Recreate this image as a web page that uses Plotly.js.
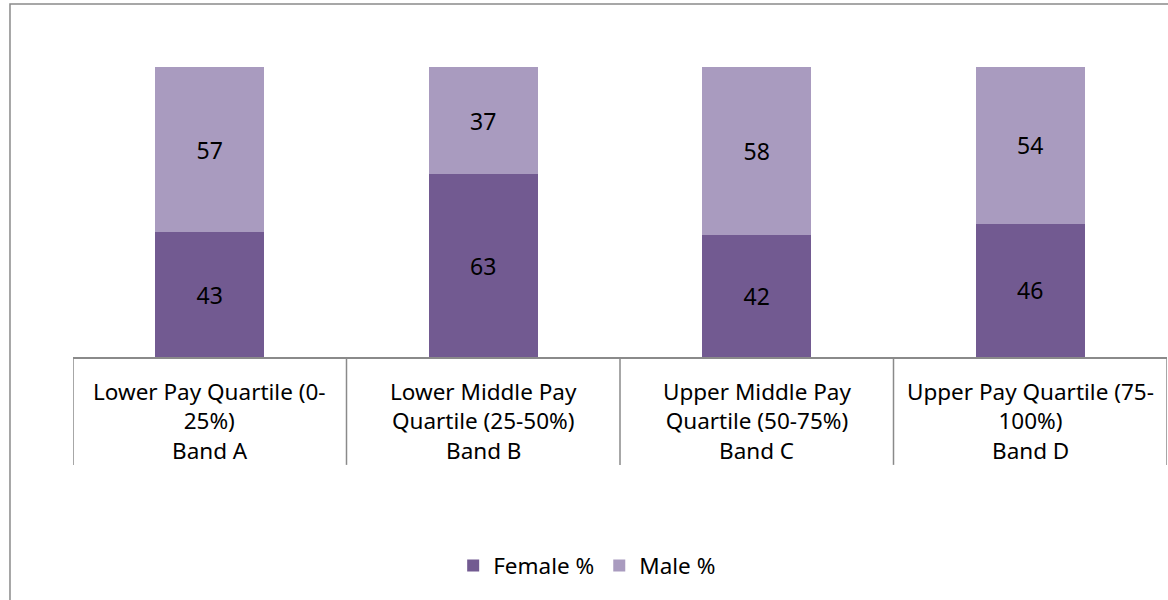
<!DOCTYPE html>
<html>
<head>
<meta charset="utf-8">
<script src="https://cdn.plot.ly/plotly-3.0.1.min.js"></script>
<style>html,body{margin:0;padding:0;background:#fff;}#chart{width:1168px;height:600px;}</style>
</head>
<body>
<div id="chart"></div>
<script>
const categories = ["Band A", "Band B", "Band C", "Band D"];
const quartileLabels = ["Lower Pay Quartile (0-<br>25%)", "Lower Middle Pay<br>Quartile (25-50%)", "Upper Middle Pay<br>Quartile (50-75%)", "Upper Pay Quartile (75-<br>100%)"];
const femalePct = [43, 63, 42, 46];
const malePct = [57, 37, 58, 54];

const FONT = "Noto Sans, sans-serif";
const FS = 22.5;
const xIdx = categories.map((c, i) => i);

const traces = [
  {type: "bar", name: "Female %", x: xIdx, y: femalePct, marker: {color: "#725A91"},
   texttemplate: "%{y}", textposition: "inside", insidetextanchor: "middle",
   textfont: {family: FONT, size: 23, color: "#000"}, hoverinfo: "skip"},
  {type: "bar", name: "Male %", x: xIdx, y: malePct, marker: {color: "#A99BBF"},
   texttemplate: "%{y}", textposition: "inside", insidetextanchor: "middle",
   textfont: {family: FONT, size: 23, color: "#000"}, hoverinfo: "skip"}
];

const shapes = [];
for (let i = 0; i <= categories.length; i++) {
  shapes.push({type: "line", xref: "x", yref: "paper", x0: i - 0.5, x1: i - 0.5, y0: 0, y1: -0.372,
    line: {color: "#8a8a8a", width: 1.5}});
}
shapes.push({type: "rect", xref: "paper", yref: "paper", x0: -0.0576, x1: 1.01, y0: -0.86, y1: 1.217,
  line: {color: "#8a8a8a", width: 1.5}, fillcolor: "rgba(0,0,0,0)"});

const annotations = [];
categories.forEach((c, i) => {
  annotations.push({xref: "x", yref: "paper", x: i, y: -0.169, yanchor: "middle", xanchor: "center",
    text: quartileLabels[i], showarrow: false, font: {family: FONT, size: FS, color: "#000"}, align: "center"});
  annotations.push({xref: "x", yref: "paper", x: i, y: -0.321, yanchor: "middle", xanchor: "center",
    text: c, showarrow: false, font: {family: FONT, size: FS, color: "#000"}});
});

const layout = {
  width: 1168, height: 600,
  margin: {l: 73, r: 1, t: 67, b: 243},
  paper_bgcolor: "#fff", plot_bgcolor: "#fff",
  barmode: "stack", bargap: 0.6,
  showlegend: true,
  legend: {orientation: "h", x: 0.47, xanchor: "center", y: -0.72, yanchor: "middle",
    font: {family: FONT, size: FS, color: "#000"}, traceorder: "normal"},
  xaxis: {type: "linear", range: [-0.5, categories.length - 0.5], showticklabels: false, ticks: "",
    showgrid: false, zeroline: false, showline: true, linecolor: "#8a8a8a", linewidth: 1.5, fixedrange: true},
  yaxis: {range: [0, 100], visible: false, showgrid: false, zeroline: false, fixedrange: true},
  shapes: shapes,
  annotations: annotations
};

Plotly.newPlot("chart", traces, layout, {displayModeBar: false, staticPlot: true});
</script>
</body>
</html>
